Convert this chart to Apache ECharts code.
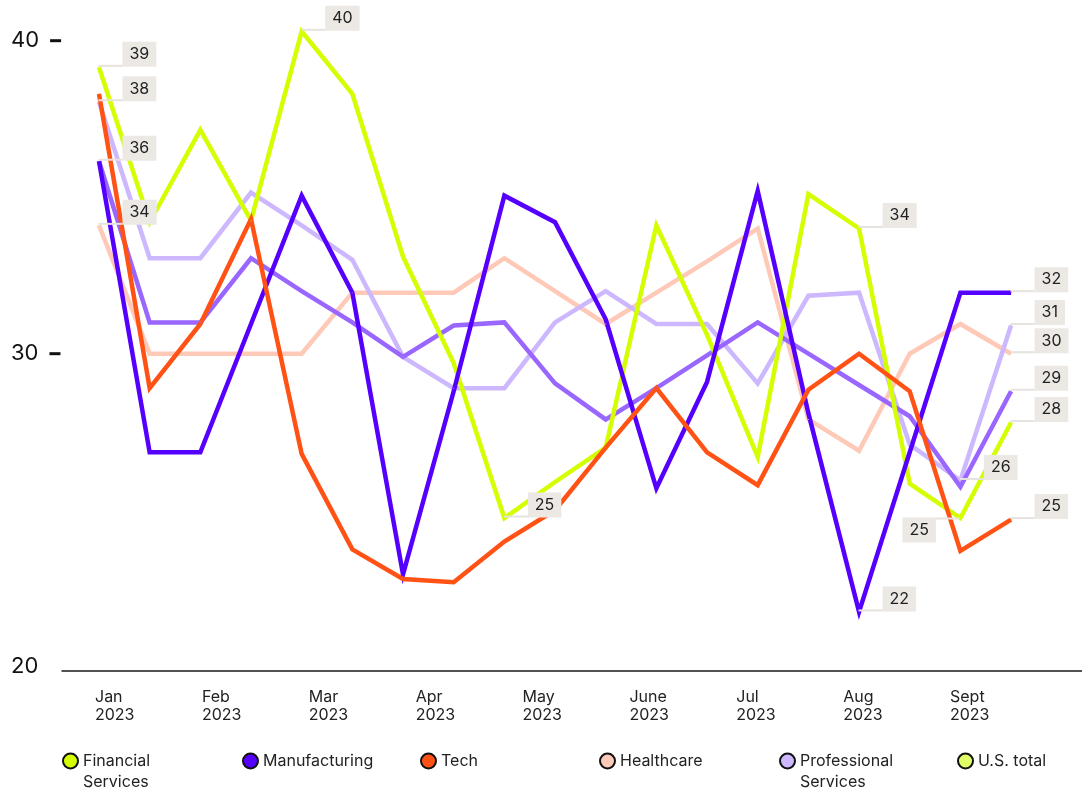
<!DOCTYPE html>
<html>
<head>
<meta charset="utf-8">
<title>Industry index 2023</title>
<script src="https://cdn.jsdelivr.net/npm/echarts@6/dist/echarts.min.js"></script>
<style>
html, body { margin: 0; padding: 0; background: #fff; }
#chart { width: 1082px; height: 789px; }
</style>
</head>
<body>
<div id="chart"></div>
<script>
// x-axis labels (one per month, points are twice a month)
const months = ['Jan', 'Feb', 'Mar', 'Apr', 'May', 'June', 'Jul', 'Aug', 'Sept'];
const year = '2023';

const seriesNames = ['Financial Services', 'Manufacturing', 'Tech', 'Healthcare', 'Professional Services', 'U.S. total'];
const legendText = ['Financial\nServices', 'Manufacturing', 'Tech', 'Healthcare', 'Professional\nServices', 'U.S. total'];

// values, 19 points each
const financial = [39.15, 34.2, 37.15, 34.25, 40.3, 38.3, 33.1, 29.7, 24.75, 25.9, 27.0, 34.1, 30.6, 26.7, 35.1, 34.0, 25.85, 24.75, 27.8];
const manufacturing = [36.15, 26.85, 26.85, 30.95, 35.05, 31.95, 22.95, 28.8, 35.05, 34.2, 31.1, 25.7, 29.1, 35.2, 28.1, 21.75, 26.85, 31.95, 31.95];
const tech = [38.3, 28.9, 30.95, 34.3, 26.8, 23.75, 22.8, 22.7, 24.0, 25.0, 27.0, 28.9, 26.85, 25.8, 28.85, 30.0, 28.8, 23.7, 24.7];
const healthcare = [34.1, 30.0, 30.0, 30.0, 30.0, 31.95, 31.95, 31.95, 33.05, 32.0, 30.95, 31.95, 32.95, 34.0, 27.9, 26.9, 30.0, 30.95, 30.0];
const professional = [38.05, 33.05, 33.05, 35.15, 34.1, 33.0, 29.9, 28.9, 28.9, 31.0, 32.0, 30.95, 30.95, 29.05, 31.85, 31.95, 27.1, 25.95, 30.9];
const usTotal = [36.15, 31.0, 31.0, 33.05, 32.0, 31.0, 29.9, 30.9, 31.0, 29.05, 27.9, 28.9, 29.95, 31.0, 30.0, 29.0, 28.0, 25.75, 28.8];

// which points carry a value box
const labelIdx = [[0, 4, 8, 15, 18], [0, 15, 18], [18], [0, 18], [0, 17, 18], [18]];
const labelLeftIdx = [[17], [], [], [], [], []];

const values = [financial, manufacturing, tech, healthcare, professional, usTotal];
const lineColors = ['#d4ff00', '#5500ff', '#ff5214', '#ffc9b8', '#cdb8ff', '#9966ff'];
const legendColors = ['#d4ff00', '#5500ff', '#ff5214', '#ffc9b8', '#cdb8ff', '#e0ff66'];
const drawOrder = [3, 4, 5, 0, 1, 2];
const font = 'Inter, "Noto Sans", sans-serif';
const legendLeft = [62, 242, 420, 599, 779, 957];

const boxRich = {
    ln: { width: 24, height: 2, lineHeight: 2, backgroundColor: '#e6e2de', verticalAlign: 'bottom' },
    lnTop: { width: 24, height: 2, lineHeight: 2, backgroundColor: '#e6e2de', verticalAlign: 'top' },
    bx: { fontSize: 16, fontFamily: font, color: '#222', backgroundColor: '#ece8e4', height: 25, lineHeight: 25, padding: [0, 7] }
};

function makePoint(si, k, v) {
    if (labelIdx[si].indexOf(k) >= 0) {
        return {
            value: [k, v],
            label: {
                show: true, position: [0, 0], align: 'left', verticalAlign: 'bottom',
                formatter: '{ln| }{bx|' + Math.round(v) + '}', rich: boxRich
            }
        };
    }
    if (labelLeftIdx[si].indexOf(k) >= 0) {
        return {
            value: [k, v],
            label: {
                show: true, position: [0, 0], align: 'right', verticalAlign: 'top',
                formatter: '{bx|' + Math.round(v) + '}{lnTop| }', rich: boxRich
            }
        };
    }
    return [k, v];
}

const chart = echarts.init(document.getElementById('chart'));

const option = {
    animation: false,
    backgroundColor: '#fff',
    grid: [
        { left: 62, right: 0, top: 40.7, bottom: 122.3, outerBoundsMode: 'none' },
        { left: 95, right: 0, top: 40.7, bottom: 122.3, outerBoundsMode: 'none' }
    ],
    xAxis: [
        {
            gridIndex: 0, type: 'value', min: -0.73, max: 19.4, offset: 4,
            axisLine: { show: true, onZero: false, lineStyle: { color: '#1a1a1a', width: 1.5 } },
            axisTick: { show: false }, axisLabel: { show: false }, splitLine: { show: false }
        },
        {
            gridIndex: 1, type: 'value', min: 0, max: 9.235, interval: 1,
            axisLine: { show: false }, axisTick: { show: false }, splitLine: { show: false },
            axisLabel: {
                align: 'left', margin: 21, fontSize: 16, lineHeight: 18, color: '#222', fontFamily: font,
                formatter: function (v) {
                    const i = Math.round(v);
                    if (Math.abs(v - i) > 1e-6 || !months[i]) return '';
                    return months[i] + '\n' + year;
                }
            }
        }
    ],
    yAxis: [
        {
            gridIndex: 0, type: 'value', min: 20, max: 40, interval: 10,
            axisLine: { show: false }, axisTick: { show: false }, splitLine: { show: false },
            axisLabel: {
                align: 'left', margin: 51,
                formatter: function (v) {
                    return v === 20 ? '{v|' + v + '}' : '{v|' + v + '}{s|}{d|}';
                },
                rich: {
                    v: { fontSize: 22, color: '#111', fontFamily: font },
                    s: { width: 11 },
                    d: { width: 11, height: 3, backgroundColor: '#111' }
                }
            }
        },
        { gridIndex: 1, type: 'value', min: 20, max: 40, show: false }
    ],
    legend: seriesNames.map(function (name, i) {
        const twoLine = legendText[i].indexOf('\n') >= 0;
        // two-line names get an empty first line so the icon sits beside the first word
        return {
            left: legendLeft[i], top: twoLine ? 761 - 31.5 : 761 - 10.5,
            padding: 0, itemWidth: 15, itemHeight: 15, icon: 'circle', selectedMode: false,
            formatter: function () { return twoLine ? ' \n' + legendText[i] : legendText[i]; },
            textStyle: { fontSize: 16, lineHeight: 21, color: '#222', fontFamily: font },
            data: [{ name: name, itemStyle: { color: legendColors[i], borderColor: '#111', borderWidth: 2 } }]
        };
    }),
    series: drawOrder.map(function (i) {
        return {
            name: seriesNames[i],
            type: 'line',
            xAxisIndex: 0, yAxisIndex: 0,
            data: values[i].map(function (v, k) { return makePoint(i, k, v); }),
            symbol: 'circle', symbolSize: 1, showSymbol: true, showAllSymbol: true,
            clip: false,
            itemStyle: { color: lineColors[i] },
            lineStyle: { color: lineColors[i], width: 4.5, join: 'miter', miterLimit: 10, cap: 'butt' },
            emphasis: { disabled: true },
            silent: true
        };
    })
};

chart.setOption(option);
</script>
</body>
</html>
